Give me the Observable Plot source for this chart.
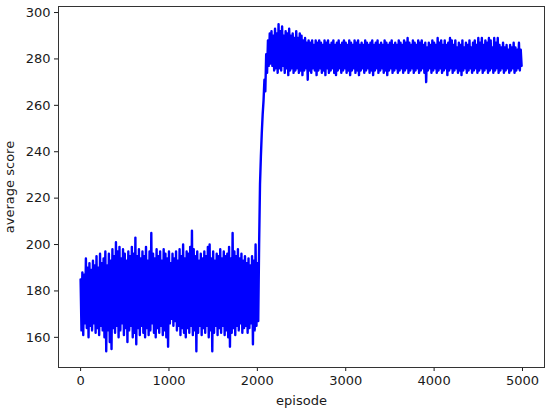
<!DOCTYPE html>
<html>
<head>
<meta charset="utf-8">
<script src="https://cdn.jsdelivr.net/npm/d3@7"></script>
<script src="https://cdn.jsdelivr.net/npm/@observablehq/plot@0.6"></script>
<style>
  html, body { margin: 0; padding: 0; background: #fff; }
  #chart { width: 550px; height: 413px; }
</style>
</head>
<body>
<div id="chart"></div>
<script>
// Sampling step between stored readings (episodes)
const episodeStep = 10;

// Episodes 0–2010: noisy baseline before learning
const baselineScores = [
  185,163, 188,161, 187,166, 194,164, 190,160, 192,165, 189,163, 193,166, 191,162, 195,164,
  190,161, 196,165, 192,163, 194,160, 197,154, 191,163, 196,158, 193,155, 198,164, 195,162,
  201,165, 197,160, 199,163, 194,166, 198,161, 196,164, 193,158, 197,163, 195,165, 199,160,
  196,162, 203,157, 195,164, 198,161, 194,165, 197,162, 195,160, 199,164, 193,161, 197,163,
  205,166, 196,162, 194,160, 198,164, 195,162, 197,165, 193,161, 198,163, 196,160, 194,156,
  197,166, 192,168, 196,165, 194,167, 197,163, 193,165, 198,161, 195,164, 200,162, 194,160,
  197,164, 196,162, 199,165, 206,161, 198,163, 195,154, 197,162, 193,165, 196,161, 194,164,
  197,162, 195,165, 199,160, 200,163, 194,154, 197,162, 193,165, 196,161, 195,164, 198,162,
  194,165, 197,161, 195,163, 196,160, 199,156, 194,162, 205,164, 197,161, 195,165, 198,163,
  194,166, 196,162, 193,164, 195,165, 192,162, 194,164, 191,166, 195,157, 193,163, 200,165,
  192,167
];

// Episodes 2020–2150: the sharp rise
const riseScores = [200, 226, 238, 248, 256, 262, 271, 266, 282, 274, 288, 277, 291, 278];

// Episodes 2160–4990: plateau after learning
const plateauScores = [
  292,277, 290,275, 293,276, 291,274, 295,276, 292,275, 294,277, 290,274, 292,276, 291,273,
  293,275, 290,276, 291,274, 289,275, 292,276, 289,274, 291,275, 290,273, 288,275, 289,276,
  287,271, 288,275, 287,274, 288,276, 286,275, 288,273, 287,275, 288,276, 287,274, 286,275,
  288,273, 287,276, 288,274, 286,275, 287,276, 288,274, 286,273, 287,275, 288,276, 286,274,
  287,275, 288,276, 287,274, 286,275, 288,273, 287,275, 286,276, 288,274, 287,275, 288,273,
  286,275, 287,276, 286,274, 288,275, 287,276, 286,274, 287,275, 288,273, 286,275, 287,276,
  288,274, 286,275, 287,276, 286,274, 288,275, 287,273, 286,275, 287,276, 288,274, 286,275,
  287,276, 286,274, 288,275, 287,276, 286,274, 288,275, 287,276, 289,274, 287,275, 286,276,
  288,274, 287,275, 286,276, 288,274, 287,275, 288,276, 286,274, 287,270, 285,275, 287,276,
  286,274, 288,275, 287,276, 286,274, 289,275, 287,276, 288,274, 286,275, 288,276, 286,273,
  287,275, 289,276, 288,274, 286,275, 288,276, 285,274, 287,275, 286,273, 288,275, 285,276,
  287,274, 286,275, 288,276, 285,274, 287,275, 288,276, 286,274, 289,275, 287,276, 289,274,
  286,275, 288,276, 287,274, 289,275, 288,276, 285,274, 289,275, 287,276, 289,274, 286,275,
  285,276, 287,274, 285,275, 286,276, 284,274, 286,275, 285,276, 287,274, 285,275, 284,276,
  287,275, 284,277
];

const xTicks = [0, 1000, 2000, 3000, 4000, 5000];
const yTicks = [160, 180, 200, 220, 240, 260, 280, 300];
const xLabel = "episode";
const yLabel = "average score";

const scores = baselineScores.concat(riseScores, plateauScores);
const data = scores.map((s, i) => ({episode: i * episodeStep, score: s}));

const font = "DejaVu Sans, sans-serif";
const chart = Plot.plot({
  width: 550,
  height: 413,
  marginLeft: 58,
  marginRight: 6,
  marginTop: 6,
  marginBottom: 46,
  style: {fontFamily: font, fontSize: "13px", color: "#1a1a1a", background: "#fff"},
  x: {domain: [-250, 5249]},
  y: {domain: [147, 302.6]},
  marks: [
    Plot.axisX({ticks: xTicks, tickFormat: d => String(d), tickSize: 4, tickPadding: 4,
      fontSize: 13, label: xLabel, labelAnchor: "center", labelArrow: "none", labelOffset: 37}),
    Plot.axisY({ticks: yTicks, tickFormat: d => String(d), tickSize: 4, tickPadding: 4,
      fontSize: 13, label: yLabel, labelAnchor: "center", labelArrow: "none", labelOffset: 54}),
    Plot.line(data, {x: "episode", y: "score", stroke: "#0000ff", strokeWidth: 2.4, strokeLinejoin: "round"}),
    Plot.frame({stroke: "#333", strokeWidth: 1})
  ]
});
document.getElementById("chart").appendChild(chart);
</script>
</body>
</html>
